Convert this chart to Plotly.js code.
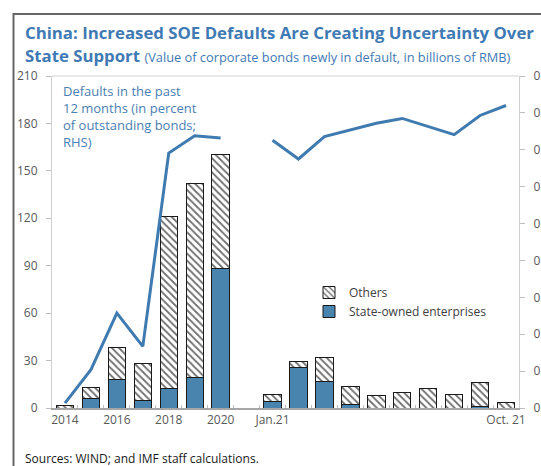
<!DOCTYPE html>
<html>
<head>
<meta charset="utf-8">
<script src="https://cdn.plot.ly/plotly-3.0.1.min.js"></script>
<style>html,body{margin:0;padding:0;background:#fff;overflow:hidden}</style>
</head>
<body>
<div id="chart" style="width:541px;height:466px"></div>
<script>
// Categories (annual 2014-2020, a gap, then monthly Jan-Oct 2021)
const categories = ['2014','2015','2016','2017','2018','2019','2020',' ',
  'Jan.21','Feb.21','Mar.21','Apr.21','May.21','Jun.21','Jul.21','Aug.21','Sep.21','Oct.21'];
const tickLabels = ['2014','','2016','','2018','','2020','',
  'Jan.21','','','','','','','','','Oct. 21'];
// Billions of RMB newly in default
const soeValues    = [0, 5.9, 18.3, 5.0, 12.2, 19.5, 88.5, null,
  4.4, 25.9, 16.6, 2.1, 0, 0, 0, 0, 1.1, 0];
const othersValues = [1.5, 7.0, 20.2, 23.2, 108.9, 122.4, 71.7, null,
  4.0, 3.5, 15.2, 11.8, 8.0, 9.9, 12.4, 8.4, 15.3, 3.6];
// Defaults in past 12 months, percent of outstanding bonds (RHS)
const defaultRate  = [0.013, 0.104, 0.257, 0.167, 0.691, 0.738, 0.732, null,
  0.726, 0.675, 0.736, 0.755, 0.772, 0.785, 0.764, 0.741, 0.793, 0.820];

const W = 541, H = 466;
const M = {l: 52, r: 22, t: 76, b: 58};
const PW = W - M.l - M.r, PH = H - M.t - M.b;
const px = x => (x - M.l) / PW;        // pixel -> paper x
const py = y => (H - M.b - y) / PH;    // pixel -> paper y

const blue = '#4884ad';
const lineBlue = '#3f7bb0';
const titleBlue = '#3f7ab4';
const gridGray = '#bfbfbf';
const FONT = 'Open Sans, sans-serif';

const traces = [
  {type: 'bar', name: 'State-owned enterprises', x: categories, y: soeValues,
   marker: {color: blue, line: {color: '#1a1a1a', width: 1}}, hoverinfo: 'skip'},
  {type: 'bar', name: 'Others', x: categories, y: othersValues,
   marker: {color: 'white', line: {color: '#1a1a1a', width: 1},
            pattern: {shape: '\\', fgcolor: '#6e6e6e', bgcolor: 'white', size: 5, solidity: 0.35}},
   hoverinfo: 'skip'},
  {type: 'scatter', mode: 'lines', name: 'Defaults', x: categories, y: defaultRate,
   yaxis: 'y2', connectgaps: false, showlegend: false,
   line: {color: lineBlue, width: 3}, hoverinfo: 'skip'}
];

const layout = {
  width: W, height: H,
  margin: M,
  paper_bgcolor: 'white', plot_bgcolor: 'white',
  font: {family: FONT, size: 12, color: '#595959'},
  barmode: 'stack', bargap: 0.33,
  showlegend: true,
  legend: {x: px(309), y: py(278), xanchor: 'left', yanchor: 'top',
           traceorder: 'reversed', bgcolor: 'rgba(0,0,0,0)',
           font: {family: FONT, size: 12, color: '#404040'}, tracegroupgap: 0},
  xaxis: {type: 'category', categoryorder: 'array', categoryarray: categories,
          tickmode: 'array', tickvals: categories, ticktext: tickLabels, tickangle: 0,
          tickson: 'boundaries', ticks: 'inside', ticklen: 3, tickcolor: gridGray,
          showline: true, linecolor: '#a6a6a6', linewidth: 1.5,
          showgrid: false, zeroline: false, fixedrange: true,
          tickfont: {family: FONT, size: 12, color: '#595959'}},
  yaxis: {range: [0, 210], dtick: 30, tick0: 0, ticks: 'outside', ticklen: 5,
          tickcolor: gridGray, showline: true, linecolor: '#d0d0d0', linewidth: 1,
          showgrid: false, zeroline: false, ticklabelstandoff: 6,
          tickfont: {family: FONT, size: 12, color: '#595959'}},
  yaxis2: {range: [0, 0.9], dtick: 0.1, tick0: 0, tickformat: '.1f',
           overlaying: 'y', side: 'right', ticks: 'outside', ticklen: 5,
           tickcolor: gridGray, showline: true, linecolor: '#d0d0d0', linewidth: 1,
           showgrid: false, zeroline: false, ticklabelstandoff: 6,
           tickfont: {family: FONT, size: 12, color: '#595959'}},
  shapes: [
    {type: 'line', xref: 'paper', yref: 'paper', x0: 0, x1: 1, y0: 1, y1: 1,
     line: {color: '#d0d0d0', width: 1}},
    {type: 'rect', xref: 'paper', yref: 'paper', x0: px(13.5), x1: px(560), y0: py(14), y1: py(500),
     line: {color: '#666666', width: 2}, fillcolor: 'rgba(0,0,0,0)'}
  ],
  annotations: [
    {xref: 'paper', yref: 'paper', x: px(23), y: py(32.5), xanchor: 'left', yanchor: 'middle',
     showarrow: false, align: 'left',
     text: '<b>China: Increased SOE Defaults Are Creating Uncertainty Over</b>',
     font: {family: FONT, size: 16.8, color: titleBlue}},
    {xref: 'paper', yref: 'paper', x: px(23), y: py(56), xanchor: 'left', yanchor: 'middle',
     showarrow: false, align: 'left',
     text: '<b>State Support</b> <span style="font-size:12.8px">(Value of corporate bonds newly in default, in billions of RMB)</span>',
     font: {family: FONT, size: 16.8, color: titleBlue}},
    {xref: 'paper', yref: 'paper', x: px(61), y: py(80), xanchor: 'left', yanchor: 'top',
     showarrow: false, align: 'left',
     text: 'Defaults in the past<br>12 months (in percent<br>of outstanding bonds;<br>RHS)',
     font: {family: FONT, size: 13, color: '#4a80b3'}},
    {xref: 'paper', yref: 'paper', x: px(23), y: py(459), xanchor: 'left', yanchor: 'middle',
     showarrow: false, align: 'left',
     text: 'Sources: WIND; and IMF staff calculations.',
     font: {family: FONT, size: 12, color: '#1a1a1a'}}
  ]
};

Plotly.newPlot('chart', traces, layout, {displayModeBar: false, staticPlot: true});
</script>
</body>
</html>
